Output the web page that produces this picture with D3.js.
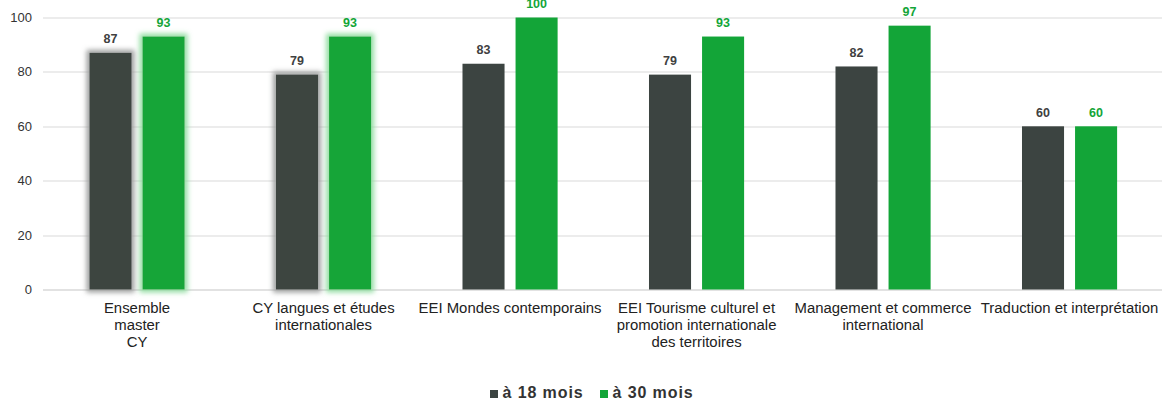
<!DOCTYPE html>
<html>
<head>
<meta charset="utf-8">
<script src="https://cdn.jsdelivr.net/npm/d3@7"></script>
<style>
  html, body { margin: 0; padding: 0; background: #fff; }
  svg { display: block; font-family: "Liberation Sans", Arial, sans-serif; }
</style>
</head>
<body>
<div id="chart"></div>
<script>
// Categories (label lines as wrapped in the original)
const categories = [
  'Ensemble master CY',
  'CY langues et études internationales',
  'EEI Mondes contemporains',
  'EEI Tourisme culturel et promotion internationale des territoires',
  'Management et commerce international',
  'Traduction et interprétation'
];
const categoryLines = [
  ['Ensemble', 'master', 'CY'],
  ['CY langues et études', 'internationales'],
  ['EEI Mondes contemporains'],
  ['EEI Tourisme culturel et', 'promotion internationale', 'des territoires'],
  ['Management et commerce', 'international'],
  ['Traduction et interprétation']
];
const seriesNames = ['à 18 mois', 'à 30 mois'];
const values18 = [87, 79, 83, 79, 82, 60];
const values30 = [93, 93, 100, 93, 97, 60];
const yTicks = [0, 20, 40, 60, 80, 100];
// points highlighted with a glow in the original
const glowed = [true, true, false, false, false, false];

const COLORS = ['#3c4441', '#13a538'];
const LABEL_COLORS = ['#404040', '#13a538'];
const GLOW = ['#9a9c9b', '#8fdc9f'];

(function () {
  const W = 1162, H = 400;
  const margin = { top: 17.5, right: 0, bottom: 110, left: 43 };
  const width = W - margin.left - margin.right;
  const height = H - margin.top - margin.bottom - 0.5; // 0 at y=290

  const svg = d3.select('#chart').append('svg')
    .attr('width', W).attr('height', H)
    .attr('viewBox', `0 0 ${W} ${H}`);

  // glow filters
  const defs = svg.append('defs');
  GLOW.forEach((c, i) => {
    const f = defs.append('filter').attr('id', 'glow' + i)
      .attr('x', '-40%').attr('y', '-20%').attr('width', '180%').attr('height', '140%');
    f.append('feMorphology').attr('in', 'SourceAlpha').attr('operator', 'dilate').attr('radius', 3).attr('result', 'dil');
    f.append('feGaussianBlur').attr('in', 'dil').attr('stdDeviation', 2.6).attr('result', 'blur');
    f.append('feFlood').attr('flood-color', c).attr('flood-opacity', 0.95).attr('result', 'col');
    f.append('feComposite').attr('in', 'col').attr('in2', 'blur').attr('operator', 'in').attr('result', 'glow');
    const m = f.append('feMerge');
    m.append('feMergeNode').attr('in', 'glow');
    m.append('feMergeNode').attr('in', 'SourceGraphic');
  });

  const g = svg.append('g').attr('transform', `translate(${margin.left},${margin.top})`);

  const y = d3.scaleLinear().domain([0, 100]).range([height, 0]);
  const x0 = d3.scaleBand().domain(categories).range([0, width]).paddingInner(0.49).paddingOuter(0.245);
  const x1 = d3.scaleBand().domain(seriesNames).range([0, x0.bandwidth()]).paddingInner(0.2075);

  // gridlines
  g.append('g').selectAll('line').data(yTicks).enter().append('line')
    .attr('x1', 0).attr('x2', width + 5)
    .attr('y1', d => Math.round(y(d)) + 0.5).attr('y2', d => Math.round(y(d)) + 0.5)
    .attr('stroke', '#d9d9d9')
    .attr('stroke-width', d => d === 0 ? 1.5 : 1);

  // y tick labels
  g.append('g').selectAll('text').data(yTicks).enter().append('text')
    .attr('x', -11).attr('y', d => y(d)).attr('dy', '0.35em')
    .attr('text-anchor', 'end')
    .style('font-size', '13px').style('fill', '#333')
    .text(d => d);

  const rows = categories.map((c, i) => ({ cat: c, i, vals: [values18[i], values30[i]] }));

  const groups = g.selectAll('.grp').data(rows).enter().append('g')
    .attr('transform', d => `translate(${x0(d.cat)},0)`);

  groups.selectAll('rect').data(d => d.vals.map((v, s) => ({ v, s, glow: glowed[d.i] }))).enter()
    .append('rect')
    .attr('x', d => x1(seriesNames[d.s]) + 0.8)
    .attr('y', d => y(d.v))
    .attr('width', x1.bandwidth())
    .attr('height', d => y(0) - y(d.v))
    .attr('fill', d => COLORS[d.s])
    .attr('filter', d => d.glow ? `url(#glow${d.s})` : null);

  groups.selectAll('.val').data(d => d.vals.map((v, s) => ({ v, s }))).enter()
    .append('text')
    .attr('x', d => x1(seriesNames[d.s]) + 0.8 + x1.bandwidth() / 2)
    .attr('y', d => y(d.v) - 9.5)
    .attr('text-anchor', 'middle')
    .style('font-size', '12.5px').style('font-weight', 'bold')
    .style('fill', d => LABEL_COLORS[d.s])
    .text(d => d.v);

  // category labels
  const lab = g.append('g').selectAll('text').data(rows).enter().append('text')
    .attr('x', d => x0(d.cat) + x0.bandwidth() / 2 + 0.8)
    .attr('y', height + 23)
    .attr('text-anchor', 'middle')
    .style('font-size', '14.9px').style('fill', '#222');
  lab.selectAll('tspan').data(d => categoryLines[d.i]).enter().append('tspan')
    .attr('x', function () { return d3.select(this.parentNode).attr('x'); })
    .attr('dy', (d, i) => i === 0 ? 0 : 17)
    .text(d => d);

  // legend
  const legend = svg.append('g').attr('transform', 'translate(490,398)');
  const lx = [0, 110];
  seriesNames.forEach((n, i) => {
    legend.append('rect').attr('x', lx[i]).attr('y', -8).attr('width', 8).attr('height', 8).attr('fill', COLORS[i]);
    legend.append('text').attr('x', lx[i] + 12.5).attr('y', 0)
      .style('font-size', '16px').style('font-weight', 'bold').style('fill', '#333')
      .style('letter-spacing', '0.9px')
      .text(n);
  });
})();
</script>
</body>
</html>
